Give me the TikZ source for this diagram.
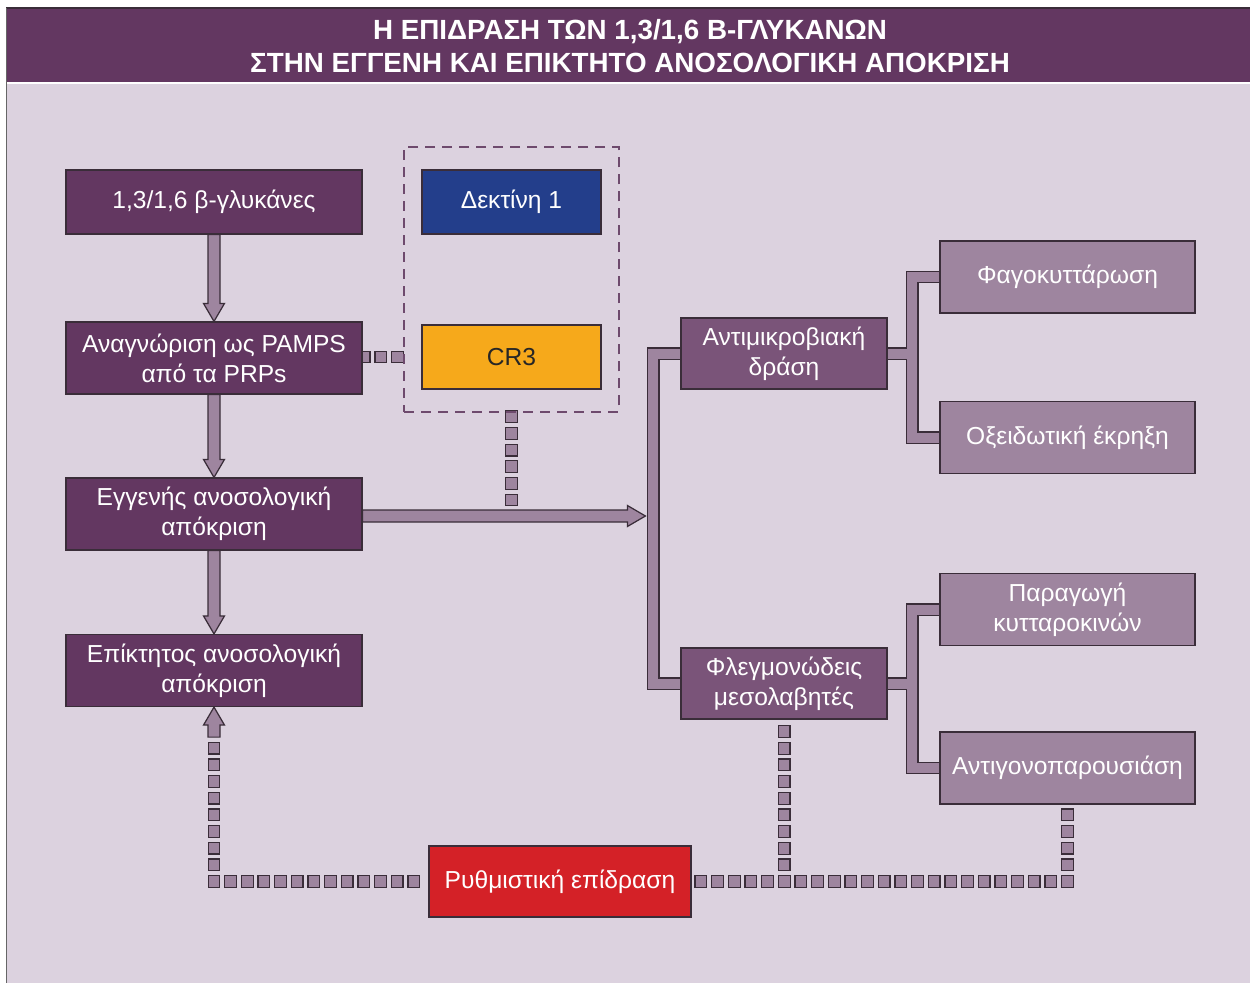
\documentclass[tikz,border=0pt]{standalone}
\usepackage{fontspec}
\setmainfont{Liberation Sans}
\usetikzlibrary{calc,fit,decorations.markings}

\definecolor{band}{HTML}{633761}
\definecolor{backdrop}{HTML}{DCD2DF}
\definecolor{plum}{HTML}{633761}
\definecolor{mauve}{HTML}{7A5479}
\definecolor{lilac}{HTML}{9E859F}
\definecolor{edge}{HTML}{3A2D39}
\definecolor{dectin}{HTML}{233E8B}
\definecolor{crthree}{HTML}{F6A91B}
\definecolor{regred}{HTML}{D42127}
\definecolor{dashcol}{HTML}{6E4A6D}

\newcommand{\boxfont}{\fontsize{14}{17}\selectfont}
\newcommand{\headfont}{\fontsize{15.8}{19}\selectfont\bfseries}

\pgfdeclarelayer{bg}
\pgfdeclarelayer{links}
\pgfsetlayers{bg,links,main}

\tikzset{
  box/.style={draw=edge, line width=0.7pt, text=white, align=center, font=\boxfont, inner sep=0pt},
  plumbox/.style={box, fill=plum, minimum width=5.92cm, minimum height=1.44cm},
  mauvebox/.style={box, fill=mauve, minimum width=4.12cm, minimum height=1.42cm},
  lilacbox/.style={box, fill=lilac, minimum width=5.1cm, minimum height=1.44cm},
  rcptbox/.style={draw=dashcol, line width=1.1pt, dash pattern=on 0.2cm off 0.14cm, inner xsep=0.34cm, inner ysep=0.45cm},
  pipe/.style={draw=edge, line width=0.7pt, double=lilac, double distance=0.2cm},
  % hollow block arrow from start to target
  fatarrow/.style={draw=edge, fill=lilac, line width=0.7pt, line join=miter,
    to path={let \p1=(\tikztostart), \p2=(\tikztotarget), \n1={atan2(\y2-\y1,\x2-\x1)} in
      ($(\p1)+(\n1+90:0.12cm)$)
      -- ($(\p2)+(\n1:-0.36cm)+(\n1+90:0.12cm)$)
      -- ($(\p2)+(\n1:-0.36cm)+(\n1+90:0.21cm)$)
      -- (\p2)
      -- ($(\p2)+(\n1:-0.36cm)+(\n1-90:0.21cm)$)
      -- ($(\p2)+(\n1:-0.36cm)+(\n1-90:0.12cm)$)
      -- ($(\p1)+(\n1-90:0.12cm)$) -- cycle}},
  sq/.style={draw=edge, fill=lilac, line width=0.7pt, minimum size=0.235cm, inner sep=0pt},
  sqchain/.style={decorate, decoration={markings,
    mark=between positions 0 and 1 step 0.33333cm with {\node[sq] {};}}},
}

\begin{document}
\begin{tikzpicture}[x=0.02cm, y=-0.02cm]
  \useasboundingbox (0,0) rectangle (1250,983);

  % boxes
  \node[plumbox, minimum height=1.28cm] (gluc) at (214,202) {1,3/1,6 β-γλυκάνες};
  \node[plumbox] (pamp) at (214,358) {Αναγνώριση ως PAMPS\\από τα PRPs};
  \node[plumbox] (innate) at (214,514) {Εγγενής ανοσολογική\\απόκριση};
  \node[plumbox] (adapt) at (214,670.5) {Επίκτητος ανοσολογική\\απόκριση};

  \node[box, fill=dectin, minimum width=3.58cm, minimum height=1.28cm] (dect) at (511.5,202) {Δεκτίνη 1};
  \node[box, fill=crthree, text=black!85, minimum width=3.58cm, minimum height=1.28cm] (cr3) at (511.5,357) {CR3};
  \node[rcptbox, fit=(dect)(cr3)] (rcpt) {};

  \node[mauvebox] (antimic) at (784,353.5) {Αντιμικροβιακή\\δράση};
  \node[mauvebox] (inflam) at (784,683.5) {Φλεγμονώδεις\\μεσολαβητές};

  \node[lilacbox] (phago) at (1067.5,277) {Φαγοκυττάρωση};
  \node[lilacbox] (oxid) at (1067.5,437.5) {Οξειδωτική έκρηξη};
  \node[lilacbox] (cyto) at (1067.5,609.5) {Παραγωγή\\κυτταροκινών};
  \node[lilacbox] (antig) at (1067.5,768) {Αντιγονοπαρουσιάση};

  \node[box, fill=regred, minimum width=5.24cm, minimum height=1.42cm] (reg) at (560,881.5) {Ρυθμιστική επίδραση};

  % heading
  \node[font=\headfont, text=white, align=center] (title) at (630,46)
    {Η ΕΠΙΔΡΑΣΗ ΤΩΝ 1,3/1,6 Β-ΓΛΥΚΑΝΩΝ\\ΣΤΗΝ ΕΓΓΕΝΗ ΚΑΙ ΕΠΙΚΤΗΤΟ ΑΝΟΣΟΛΟΓΙΚΗ ΑΠΟΚΡΙΣΗ};

  \begin{pgfonlayer}{bg}
    \fill[white] (0,0) rectangle (1250,983);
    \fill[backdrop] (6,84) rectangle (1250,983);
    \fill[band] (6,8) rectangle (1250,82);
    \draw[edge, line width=0.9pt] (6,8) -- (1250,8);
    \draw[black!60, line width=1.1pt] (6.5,8) -- (6.5,983);
  \end{pgfonlayer}

  \begin{pgfonlayer}{links}
    % main pathway
    \draw[fatarrow] (gluc.south) to (pamp.north);
    \draw[fatarrow] (pamp.south) to (innate.north);
    \draw[fatarrow] (innate.south) to (adapt.north);
    \draw[fatarrow] ($(innate.east)+(0,2)$) to ($(innate.east -| antimic.west)+(-35,2)$);

    % brackets
    \draw[pipe] (antimic.west) -- ++(-27,0) |- (inflam.west);
    \draw[pipe] (phago.west) -- ++(-27,0) |- (oxid.west) (antimic.east) -- ++(26,0);
    \draw[pipe] (cyto.west) -- ++(-27,0) |- (antig.west) (inflam.east) -- ++(26,0);

    % receptor links
    \path[sqchain] ($(rcpt.west |- cr3.west)+(-6,0)$) -- (pamp.east |- cr3.west);
    \path[sqchain] ($(rcpt.south |- innate.east)+(0,-14)$) -- (rcpt.south);

    % regulation
    \path[sqchain] ($(adapt.south)+(0,41)$) |- (reg.west);
    \draw[fatarrow] ($(adapt.south)+(0,30)$) to (adapt.south);
    \path[sqchain] ($(antig.south |- reg.east)+(0,-66.67)$) -- (antig.south |- reg.east) -- (reg.east);
    \path[sqchain] ($(inflam.south)+(0,12)$) -- (inflam.south |- reg.east);
  \end{pgfonlayer}
\end{tikzpicture}
\end{document}
